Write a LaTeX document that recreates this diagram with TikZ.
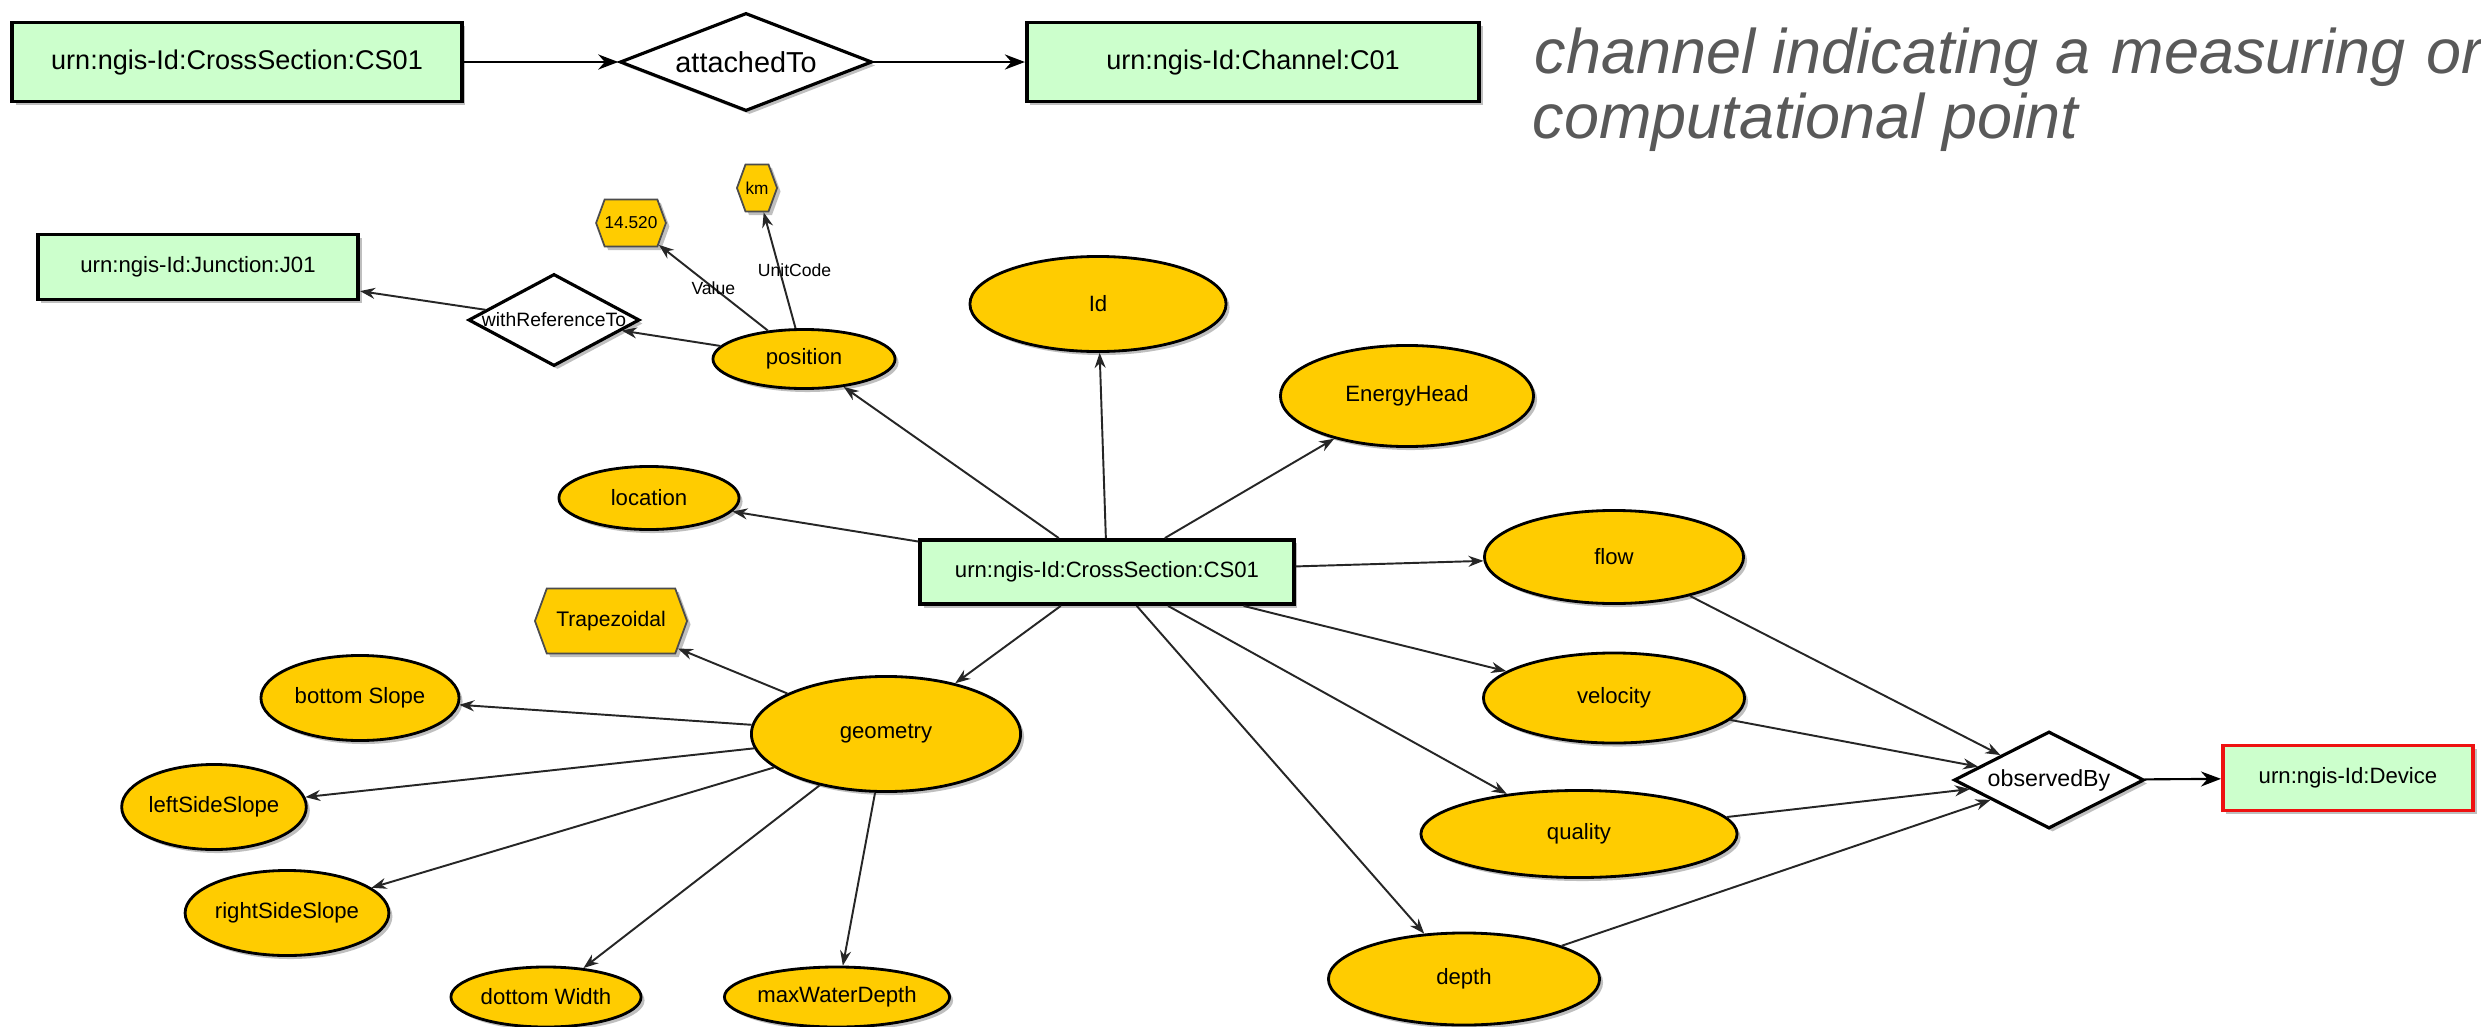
\documentclass[tikz,border=0pt]{standalone}
\usepackage{fontspec}
\setmainfont{Liberation Sans}
\usetikzlibrary{shapes.geometric,shapes.symbols,arrows.meta,shadows}
\definecolor{uriGreen}{HTML}{CCFFCC}
\definecolor{propGold}{HTML}{FFCC00}
\definecolor{noteGray}{HTML}{595959}
\definecolor{devRed}{HTML}{EE1111}

\tikzset{
  softshadow/.style={drop shadow={shadow xshift=0.035cm, shadow yshift=-0.035cm, opacity=0.25, fill=black}},
  uri/.style={rectangle, draw=black, line width=1.1pt, fill=uriGreen, inner sep=0pt,
    font=\fontsize{6.3}{7}\selectfont, softshadow},
  uribig/.style={uri, font=\fontsize{7.7}{9}\selectfont},
  prop/.style={ellipse, draw=black, line width=0.8pt, fill=propGold, inner sep=0pt,
    font=\fontsize{6.3}{7}\selectfont, softshadow},
  lit/.style={signal, signal to=east and west, signal pointer angle=140, draw=black!70,
    line width=0.5pt, fill=propGold, inner sep=0pt, font=\fontsize{6}{7}\selectfont, softshadow},
  rel/.style={diamond, draw=black, line width=0.9pt, fill=white, inner sep=0pt,
    font=\fontsize{6}{7}\selectfont, softshadow},
  relbig/.style={rel, font=\fontsize{8.2}{9}\selectfont},
  edge/.style={draw=black!85, line width=0.55pt, -{Stealth[length=0.15cm, width=0.11cm]}},
  edgebig/.style={draw=black, line width=0.8pt, -{Stealth[length=0.2cm, width=0.15cm]}},
  elabel/.style={font=\fontsize{5}{6}\selectfont, inner sep=0pt},
  note/.style={font=\fontsize{17.9}{20}\selectfont\itshape, text=noteGray, inner sep=0pt},
}

\begin{document}
\begin{tikzpicture}[x=0.01cm, y=-0.01cm]
\path[fill=white, use as bounding box] (0,0) rectangle (2481,1027);

% ---- top statement ----
\node[uribig, minimum width=4.49cm, minimum height=0.79cm] (cstop) at (237,62) {urn:ngis-Id:CrossSection:CS01};
\node[relbig, minimum width=2.52cm, minimum height=0.98cm] (attached) at (746,62) {\makebox[0pt]{attachedTo}};
\node[uribig, minimum width=4.52cm, minimum height=0.79cm] (channel) at (1253,62) {urn:ngis-Id:Channel:C01};
\draw[edgebig] (cstop) -- (attached);
\draw[edgebig] (attached) -- (channel);

\node[note, anchor=base west] (note1) at (1534,73) {channel indicating a\hspace{0.05em} measuring\hspace{0.05em} or};
\node[note, anchor=base west] (note2) at (1532,138) {computational point};

% ---- cross section and its properties ----
\node[uri, minimum width=3.73cm, minimum height=0.64cm] (cs) at (1107,572) {urn:ngis-Id:CrossSection:CS01};

\node[uri, minimum width=3.20cm, minimum height=0.65cm] (junction) at (198,267) {urn:ngis-Id:Junction:J01};
\node[rel, minimum width=1.71cm, minimum height=0.92cm, font=\fontsize{5.5}{6}\selectfont] (withref) at (554,320) {\makebox[0pt]{withReferenceTo}};
\node[lit, minimum width=0.62cm, minimum height=0.47cm, font=\fontsize{4.9}{6}\selectfont] (val) at (631,223) {14.520};
\node[lit, minimum width=0.40cm, minimum height=0.47cm, font=\fontsize{4.9}{6}\selectfont] (km) at (757,188) {km};
\node[prop, minimum width=1.82cm, minimum height=0.59cm] (position) at (804,359) {position};

\node[prop, minimum width=2.56cm, minimum height=0.95cm] (id) at (1098,304) {Id};
\node[prop, minimum width=2.53cm, minimum height=1.01cm] (energy) at (1407,396) {EnergyHead};
\node[prop, minimum width=1.80cm, minimum height=0.63cm] (location) at (649,498) {location};
\node[prop, minimum width=2.59cm, minimum height=0.93cm] (flow) at (1614,557) {flow};
\node[prop, minimum width=2.61cm, minimum height=0.90cm] (velocity) at (1614,698) {velocity};
\node[prop, minimum width=3.16cm, minimum height=0.87cm] (quality) at (1579,834) {quality};
\node[prop, minimum width=2.71cm, minimum height=0.92cm] (depth) at (1464,979) {depth};

\node[prop, minimum width=2.69cm, minimum height=1.15cm] (geometry) at (886,734) {geometry};
\node[lit, minimum width=1.52cm, minimum height=0.65cm] (trap) at (611,621) {Trapezoidal};
\node[prop, minimum width=1.98cm, minimum height=0.85cm] (bslope) at (360,698) {bottom Slope};
\node[prop, minimum width=1.68cm, minimum height=0.85cm] (lslope) at (214,807) {leftSideSlope};
\node[prop, minimum width=1.95cm, minimum height=0.85cm] (rslope) at (287,913) {rightSideSlope};
\node[prop, minimum width=1.90cm, minimum height=0.60cm] (bwidth) at (546,997) {dottom Width};
\node[prop, minimum width=1.68cm, minimum height=0.60cm] (maxdepth) at (837,997) {maxWaterDepth};

\node[rel, minimum width=1.90cm, minimum height=0.97cm, font=\fontsize{6.6}{7}\selectfont] (observed) at (2049,780) {\makebox[0pt]{observedBy}};
\node[uri, draw=devRed, minimum width=2.50cm, minimum height=0.65cm] (device) at (2348,778) {urn:ngis-Id:Device};

% ---- connectors ----
\draw[edge] (cs) -- (position);
\draw[edge] (cs) -- (id);
\draw[edge] (cs) -- (energy);
\draw[edge] (cs) -- (location);
\draw[edge] (cs) -- (flow);
\draw[edge] (cs) -- (geometry);
\draw[edge] (cs) -- (velocity);
\draw[edge] (cs) -- (quality);
\draw[edge] (cs) -- (depth);

\draw[edge] (position) -- (withref);
\draw[edge] (withref) -- (junction);
\draw[edge] (position) -- node[elabel, pos=0.5] {Value} (val);
\draw[edge] (position) -- node[elabel, pos=0.5, xshift=0.15cm] {UnitCode} (km);

\draw[edge] (geometry) -- (trap);
\draw[edge] (geometry) -- (bslope);
\draw[edge] (geometry) -- (lslope);
\draw[edge] (geometry) -- (rslope);
\draw[edge] (geometry) -- (bwidth);
\draw[edge] (geometry) -- (maxdepth);

\draw[edge] (flow) -- (observed);
\draw[edge] (velocity) -- (observed);
\draw[edge] (quality) -- (observed);
\draw[edge] (depth) -- (observed);
\draw[edgebig, line width=0.6pt] (observed) -- (device);
\end{tikzpicture}
\end{document}
